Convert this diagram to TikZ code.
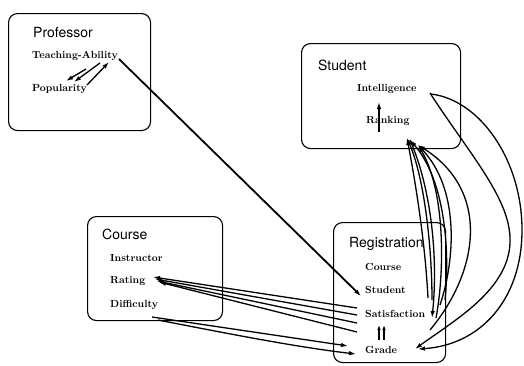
\documentclass[tikz,border=0pt]{standalone}
\usepackage{fontspec}
\setsansfont{TeX Gyre Heros}
\usetikzlibrary{arrows.meta,calc}
\begin{document}
\begin{tikzpicture}[x=1pt,y=-1pt,
  frame/.style={draw,line width=1.1pt,rounded corners=9pt,anchor=north west,inner sep=0pt},
  lbl/.style={anchor=west,inner sep=0pt,font=\fontsize{14}{16}\selectfont\sffamily},
  attr/.style={anchor=west,inner sep=0pt,font=\fontsize{10.3}{12}\selectfont\bfseries},
  arr/.style={line width=1.3pt,-{Latex[length=7pt,width=4.5pt]}},
  sarr/.style={line width=1.3pt,-{Latex[length=5pt,width=3.5pt]}}]
\useasboundingbox (0,0) rectangle (524,365);
% boxes
\node[frame,minimum width=142pt,minimum height=117pt] (profbox) at (8,13) {};
\node[frame,minimum width=159pt,minimum height=105pt] (studbox) at (301,43) {};
\node[frame,minimum width=135pt,minimum height=104pt] (coursebox) at (87,216) {};
\node[frame,minimum width=112pt,minimum height=140pt] (regbox) at (333,222) {};
% texts
\node[lbl] (proflbl) at (33,32) {Professor};
\node[attr] (ta) at (32,56) {Teaching-Ability};
\node[attr] (pop) at (32,89) {Popularity};
\node[lbl] (studlbl) at (318,65) {Student};
\node[attr] (intel) at (357,89) {Intelligence};
\node[attr] (rank) at (366,121) {Ranking};
\node[lbl] (courlbl) at (102,234) {Course};
\node[attr] (instr) at (110,258) {Instructor};
\node[attr] (rating) at (110,281) {Rating};
\node[attr] (diff) at (110,305) {Difficulty};
\node[lbl] (reglbl) at (349,244) {Registration};
\node[attr] (rcourse) at (365,267) {Course};
\node[attr] (rstud) at (365,290) {Student};
\node[attr] (sat) at (365,314) {Satisfaction};
\node[attr] (grade) at (365,350) {Grade};
% professor internal
\draw[arr] ([shift={(54,13)}]ta.west) -- ([shift={(34,-8)}]pop.west);
\draw[arr] ([shift={(68,7)}]ta.west) -- ([shift={(42,-7)}]pop.west);
\draw[arr] ([shift={(55,-4)}]pop.west) -- ([shift={(77,6)}]ta.west);
% teaching ability -> student
\draw[arr,line width=1.8pt] ([shift={(87,3)}]ta.west) -- ([shift={(-4,6)}]rstud.west);
% satisfaction -> rating
\draw[arr] ([shift={(-8,-6)}]sat.west) -- ([shift={(43,-4)}]rating.west);
\draw[arr] ([shift={(-8,1)}]sat.west) -- ([shift={(45,-2)}]rating.west);
\draw[arr] ([shift={(-8,9)}]sat.west) -- ([shift={(47,0)}]rating.west);
\draw[arr] ([shift={(-8,18)}]sat.west) -- ([shift={(49,1)}]rating.west);
% difficulty -> grade
\draw[arr] ([shift={(42,12)}]diff.west) -- ([shift={(-17,-4)}]grade.west);
\draw[arr] ([shift={(48,15)}]diff.west) .. controls ($(diff.west)+(110,27)$) and ($(grade.west)+(-70,-3)$) .. ([shift={(-9,4)}]grade.west);
% grade -> satisfaction
\draw[sarr] ([shift={(14,-10)}]grade.west) -- ([shift={(14,11)}]sat.west);
\draw[sarr] ([shift={(19,-10)}]grade.west) -- ([shift={(19,11)}]sat.west);
% ranking -> intelligence
\draw[arr] ([shift={(13,11)}]rank.west) -- ([shift={(22,13)}]intel.west);
% registration -> ranking curves
\draw[arr] ([shift={(63,-16)}]sat.west) .. controls ($(sat.west)+(60,-74)$) and ($(rank.west)+(49,59)$) .. ([shift={(41,17)}]rank.west);
\draw[arr] ([shift={(67,-14)}]sat.west) .. controls ($(sat.west)+(67,-64)$) and ($(rank.west)+(59,59)$) .. ([shift={(41,17)}]rank.west);
\draw[arr] ([shift={(44,19)}]rank.west) .. controls ($(rank.west)+(66,69)$) and ($(sat.west)+(73,-54)$) .. ([shift={(67,4)}]sat.west);
\draw[arr] ([shift={(71,4)}]sat.west) .. controls ($(sat.west)+(80,-44)$) and ($(rank.west)+(79,69)$) .. ([shift={(52,24)}]rank.west);
\draw[arr] ([shift={(75,-9)}]sat.west) .. controls ($(sat.west)+(90,-54)$) and ($(rank.west)+(94,69)$) .. ([shift={(52,24)}]rank.west);
\draw[arr] ([shift={(65,16)}]sat.west) .. controls ($(sat.west)+(115,-44)$) and ($(rank.west)+(124,69)$) .. ([shift={(52,24)}]rank.west);
\draw[arr] ([shift={(80,-14)}]sat.west) .. controls ($(sat.west)+(85,-64)$) and ($(rank.west)+(79,59)$) .. ([shift={(44,19)}]rank.west);
% intelligence -> grade
\draw[arr] ([shift={(73,4)}]intel.west) .. controls ($(intel.west)+(113,66)$) and ($(intel.west)+(155,111)$) .. ($(intel.west)+(153,154)$)
  .. controls ($(grade.west)+(143,-60)$) and ($(grade.west)+(90,-30)$) .. ([shift={(50,-1)}]grade.west);
\draw[arr] ([shift={(74,5)}]intel.west) .. controls ($(intel.west)+(123,11)$) and ($(intel.west)+(165,71)$) .. ($(intel.west)+(165,141)$)
  .. controls ($(grade.west)+(157,-50)$) and ($(grade.west)+(115,-5)$) .. ([shift={(53,-1)}]grade.west);
\end{tikzpicture}
\end{document}
